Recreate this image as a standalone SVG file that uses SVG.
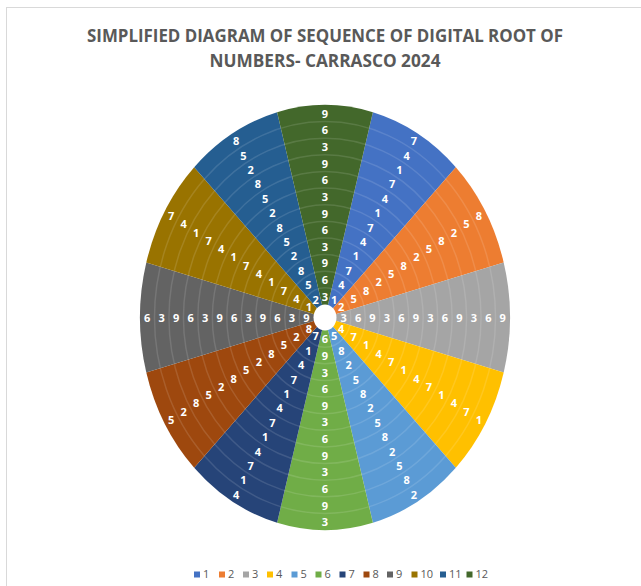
<svg xmlns="http://www.w3.org/2000/svg" width="641" height="586" viewBox="0 0 641 586">
<style>
.title{font-family:"Open Sans","Liberation Sans",sans-serif;font-weight:bold;font-size:18px;fill:#595959}
.lbl{font-family:"Open Sans","Liberation Sans",sans-serif;font-weight:bold;font-size:11px;fill:#FFFFFF;text-anchor:middle;dominant-baseline:central}
.leg{font-family:"Open Sans","Liberation Sans",sans-serif;font-size:11px;fill:#595959}
.ring{fill:none;stroke:#FFFFFF;stroke-opacity:0.12;stroke-width:1.5}
</style>
<rect x="0" y="0" width="641" height="586" fill="#FFFFFF"/>
<rect x="6.5" y="7.5" width="640" height="600" fill="none" stroke="#D9D9D9" stroke-width="1"/>
<text class="title" x="325" y="42" text-anchor="middle" textLength="476" lengthAdjust="spacingAndGlyphs">SIMPLIFIED DIAGRAM OF SEQUENCE OF DIGITAL ROOT OF</text>
<text class="title" x="325" y="67" text-anchor="middle" textLength="231" lengthAdjust="spacingAndGlyphs">NUMBERS- CARRASCO 2024</text>

<g id="slice-1">
<path d="M325 317.5 L372.88 112.24 A185 212.5 0 0 1 455.81 167.24 Z" fill="#4472C4"/>
<text class="lbl" x="334.27" y="299.04">1</text><text class="lbl" x="341.52" y="284.64">4</text><text class="lbl" x="348.75" y="270.25">7</text><text class="lbl" x="355.99" y="255.85">1</text><text class="lbl" x="363.23" y="241.45">4</text><text class="lbl" x="370.46" y="227.05">7</text><text class="lbl" x="377.70" y="212.66">1</text><text class="lbl" x="384.94" y="198.26">4</text><text class="lbl" x="392.17" y="183.86">7</text><text class="lbl" x="399.41" y="169.46">1</text><text class="lbl" x="406.65" y="155.07">4</text><text class="lbl" x="413.88" y="140.67">7</text>
</g>
<g id="slice-2">
<path d="M325 317.5 L455.81 167.24 A185 212.5 0 0 1 503.70 262.50 Z" fill="#ED7D31"/>
<text class="lbl" x="341.07" y="306.84">2</text><text class="lbl" x="353.60" y="298.53">5</text><text class="lbl" x="366.14" y="290.22">8</text><text class="lbl" x="378.68" y="281.91">2</text><text class="lbl" x="391.21" y="273.59">5</text><text class="lbl" x="403.74" y="265.28">8</text><text class="lbl" x="416.28" y="256.97">2</text><text class="lbl" x="428.81" y="248.66">5</text><text class="lbl" x="441.34" y="240.34">8</text><text class="lbl" x="453.88" y="232.03">2</text><text class="lbl" x="466.41" y="223.72">5</text><text class="lbl" x="478.95" y="215.41">8</text>
</g>
<g id="slice-3">
<path d="M325 317.5 L503.70 262.50 A185 212.5 0 0 1 503.70 372.50 Z" fill="#A5A5A5"/>
<text class="lbl" x="343.55" y="317.5">3</text><text class="lbl" x="358.03" y="317.5">6</text><text class="lbl" x="372.50" y="317.5">9</text><text class="lbl" x="386.98" y="317.5">3</text><text class="lbl" x="401.45" y="317.5">6</text><text class="lbl" x="415.92" y="317.5">9</text><text class="lbl" x="430.40" y="317.5">3</text><text class="lbl" x="444.87" y="317.5">6</text><text class="lbl" x="459.34" y="317.5">9</text><text class="lbl" x="473.82" y="317.5">3</text><text class="lbl" x="488.29" y="317.5">6</text><text class="lbl" x="502.77" y="317.5">9</text>
</g>
<g id="slice-4">
<path d="M325 317.5 L503.70 372.50 A185 212.5 0 0 1 455.81 467.76 Z" fill="#FFC000"/>
<text class="lbl" x="341.07" y="328.16">4</text><text class="lbl" x="353.60" y="336.47">7</text><text class="lbl" x="366.14" y="344.78">1</text><text class="lbl" x="378.68" y="353.09">4</text><text class="lbl" x="391.21" y="361.41">7</text><text class="lbl" x="403.74" y="369.72">1</text><text class="lbl" x="416.28" y="378.03">4</text><text class="lbl" x="428.81" y="386.34">7</text><text class="lbl" x="441.34" y="394.66">1</text><text class="lbl" x="453.88" y="402.97">4</text><text class="lbl" x="466.41" y="411.28">7</text><text class="lbl" x="478.95" y="419.59">1</text>
</g>
<g id="slice-5">
<path d="M325 317.5 L455.81 467.76 A185 212.5 0 0 1 372.88 522.76 Z" fill="#5B9BD5"/>
<text class="lbl" x="334.27" y="335.96">5</text><text class="lbl" x="341.52" y="350.36">8</text><text class="lbl" x="348.75" y="364.75">2</text><text class="lbl" x="355.99" y="379.15">5</text><text class="lbl" x="363.23" y="393.55">8</text><text class="lbl" x="370.46" y="407.95">2</text><text class="lbl" x="377.70" y="422.34">5</text><text class="lbl" x="384.94" y="436.74">8</text><text class="lbl" x="392.17" y="451.14">2</text><text class="lbl" x="399.41" y="465.54">5</text><text class="lbl" x="406.65" y="479.93">8</text><text class="lbl" x="413.88" y="494.33">2</text>
</g>
<g id="slice-6">
<path d="M325 317.5 L372.88 522.76 A185 212.5 0 0 1 277.12 522.76 Z" fill="#70AD47"/>
<text class="lbl" x="325" y="338.81">6</text><text class="lbl" x="325" y="355.44">9</text><text class="lbl" x="325" y="372.06">3</text><text class="lbl" x="325" y="388.69">6</text><text class="lbl" x="325" y="405.31">9</text><text class="lbl" x="325" y="421.94">3</text><text class="lbl" x="325" y="438.56">6</text><text class="lbl" x="325" y="455.19">9</text><text class="lbl" x="325" y="471.81">3</text><text class="lbl" x="325" y="488.44">6</text><text class="lbl" x="325" y="505.06">9</text><text class="lbl" x="325" y="521.69">3</text>
</g>
<g id="slice-7">
<path d="M325 317.5 L277.12 522.76 A185 212.5 0 0 1 194.19 467.76 Z" fill="#264478"/>
<text class="lbl" x="315.73" y="335.96">7</text><text class="lbl" x="308.48" y="350.36">1</text><text class="lbl" x="301.25" y="364.75">4</text><text class="lbl" x="294.01" y="379.15">7</text><text class="lbl" x="286.77" y="393.55">1</text><text class="lbl" x="279.54" y="407.95">4</text><text class="lbl" x="272.30" y="422.34">7</text><text class="lbl" x="265.06" y="436.74">1</text><text class="lbl" x="257.83" y="451.14">4</text><text class="lbl" x="250.59" y="465.54">7</text><text class="lbl" x="243.35" y="479.93">1</text><text class="lbl" x="236.12" y="494.33">4</text>
</g>
<g id="slice-8">
<path d="M325 317.5 L194.19 467.76 A185 212.5 0 0 1 146.30 372.50 Z" fill="#9E480E"/>
<text class="lbl" x="308.93" y="328.16">8</text><text class="lbl" x="296.40" y="336.47">2</text><text class="lbl" x="283.86" y="344.78">5</text><text class="lbl" x="271.32" y="353.09">8</text><text class="lbl" x="258.79" y="361.41">2</text><text class="lbl" x="246.26" y="369.72">5</text><text class="lbl" x="233.72" y="378.03">8</text><text class="lbl" x="221.19" y="386.34">2</text><text class="lbl" x="208.66" y="394.66">5</text><text class="lbl" x="196.12" y="402.97">8</text><text class="lbl" x="183.59" y="411.28">2</text><text class="lbl" x="171.05" y="419.59">5</text>
</g>
<g id="slice-9">
<path d="M325 317.5 L146.30 372.50 A185 212.5 0 0 1 146.30 262.50 Z" fill="#636363"/>
<text class="lbl" x="306.45" y="317.5">9</text><text class="lbl" x="291.97" y="317.5">3</text><text class="lbl" x="277.50" y="317.5">6</text><text class="lbl" x="263.02" y="317.5">9</text><text class="lbl" x="248.55" y="317.5">3</text><text class="lbl" x="234.08" y="317.5">6</text><text class="lbl" x="219.60" y="317.5">9</text><text class="lbl" x="205.13" y="317.5">3</text><text class="lbl" x="190.66" y="317.5">6</text><text class="lbl" x="176.18" y="317.5">9</text><text class="lbl" x="161.71" y="317.5">3</text><text class="lbl" x="147.23" y="317.5">6</text>
</g>
<g id="slice-10">
<path d="M325 317.5 L146.30 262.50 A185 212.5 0 0 1 194.19 167.24 Z" fill="#997300"/>
<text class="lbl" x="308.93" y="306.84">1</text><text class="lbl" x="296.40" y="298.53">4</text><text class="lbl" x="283.86" y="290.22">7</text><text class="lbl" x="271.32" y="281.91">1</text><text class="lbl" x="258.79" y="273.59">4</text><text class="lbl" x="246.26" y="265.28">7</text><text class="lbl" x="233.72" y="256.97">1</text><text class="lbl" x="221.19" y="248.66">4</text><text class="lbl" x="208.66" y="240.34">7</text><text class="lbl" x="196.12" y="232.03">1</text><text class="lbl" x="183.59" y="223.72">4</text><text class="lbl" x="171.05" y="215.41">7</text>
</g>
<g id="slice-11">
<path d="M325 317.5 L194.19 167.24 A185 212.5 0 0 1 277.12 112.24 Z" fill="#255E91"/>
<text class="lbl" x="315.73" y="299.04">2</text><text class="lbl" x="308.48" y="284.64">5</text><text class="lbl" x="301.25" y="270.25">8</text><text class="lbl" x="294.01" y="255.85">2</text><text class="lbl" x="286.77" y="241.45">5</text><text class="lbl" x="279.54" y="227.05">8</text><text class="lbl" x="272.30" y="212.66">2</text><text class="lbl" x="265.06" y="198.26">5</text><text class="lbl" x="257.83" y="183.86">8</text><text class="lbl" x="250.59" y="169.46">2</text><text class="lbl" x="243.35" y="155.07">5</text><text class="lbl" x="236.12" y="140.67">8</text>
</g>
<g id="slice-12">
<path d="M325 317.5 L277.12 112.24 A185 212.5 0 0 1 372.88 112.24 Z" fill="#43682B"/>
<text class="lbl" x="325" y="296.19">3</text><text class="lbl" x="325" y="279.56">6</text><text class="lbl" x="325" y="262.94">9</text><text class="lbl" x="325" y="246.31">3</text><text class="lbl" x="325" y="229.69">6</text><text class="lbl" x="325" y="213.06">9</text><text class="lbl" x="325" y="196.44">3</text><text class="lbl" x="325" y="179.81">6</text><text class="lbl" x="325" y="163.19">9</text><text class="lbl" x="325" y="146.56">3</text><text class="lbl" x="325" y="129.94">6</text><text class="lbl" x="325" y="113.31">9</text>
</g>

<g id="rings">
<ellipse class="ring" cx="325" cy="317.5" rx="25.79" ry="29.63"/>
<ellipse class="ring" cx="325" cy="317.5" rx="40.26" ry="46.25"/>
<ellipse class="ring" cx="325" cy="317.5" rx="54.74" ry="62.88"/>
<ellipse class="ring" cx="325" cy="317.5" rx="69.21" ry="79.5"/>
<ellipse class="ring" cx="325" cy="317.5" rx="83.69" ry="96.13"/>
<ellipse class="ring" cx="325" cy="317.5" rx="98.16" ry="112.75"/>
<ellipse class="ring" cx="325" cy="317.5" rx="112.63" ry="129.38"/>
<ellipse class="ring" cx="325" cy="317.5" rx="127.11" ry="146"/>
<ellipse class="ring" cx="325" cy="317.5" rx="141.58" ry="162.63"/>
<ellipse class="ring" cx="325" cy="317.5" rx="156.05" ry="179.25"/>
<ellipse class="ring" cx="325" cy="317.5" rx="170.53" ry="195.88"/>
</g>
<ellipse id="hole" cx="325" cy="317.5" rx="11.5" ry="13" fill="#FFFFFF"/>

<g id="legend">
<rect x="194" y="571.5" width="6" height="6" fill="#4472C4"/><text class="leg" x="203" y="578">1</text>
<rect x="219" y="571.5" width="6" height="6" fill="#ED7D31"/><text class="leg" x="228" y="578">2</text>
<rect x="243" y="571.5" width="6" height="6" fill="#A5A5A5"/><text class="leg" x="252" y="578">3</text>
<rect x="267" y="571.5" width="6" height="6" fill="#FFC000"/><text class="leg" x="276" y="578">4</text>
<rect x="291.5" y="571.5" width="6" height="6" fill="#5B9BD5"/><text class="leg" x="300.5" y="578">5</text>
<rect x="315.5" y="571.5" width="6" height="6" fill="#70AD47"/><text class="leg" x="324.5" y="578">6</text>
<rect x="339.5" y="571.5" width="6" height="6" fill="#264478"/><text class="leg" x="348.5" y="578">7</text>
<rect x="363.5" y="571.5" width="6" height="6" fill="#9E480E"/><text class="leg" x="372.5" y="578">8</text>
<rect x="387" y="571.5" width="6" height="6" fill="#636363"/><text class="leg" x="396" y="578">9</text>
<rect x="411.5" y="571.5" width="6" height="6" fill="#997300"/><text class="leg" x="420.5" y="578">10</text>
<rect x="440" y="571.5" width="6" height="6" fill="#255E91"/><text class="leg" x="449" y="578">11</text>
<rect x="466.5" y="571.5" width="6" height="6" fill="#43682B"/><text class="leg" x="475.5" y="578">12</text>
</g>
</svg>
